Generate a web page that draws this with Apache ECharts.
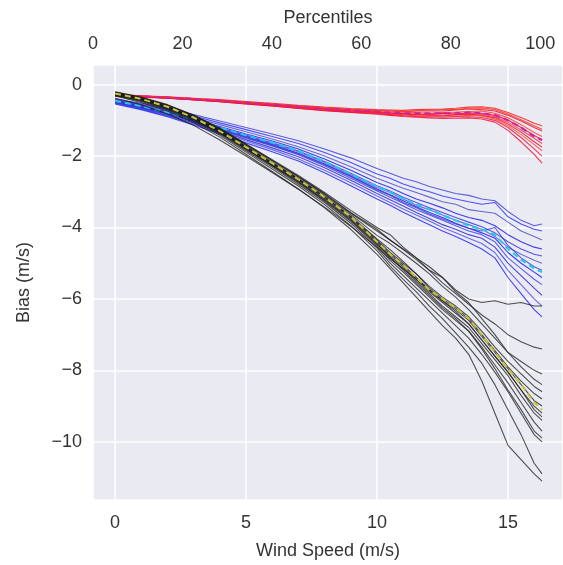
<!DOCTYPE html>
<html><head><meta charset="utf-8">
<script src="https://cdn.jsdelivr.net/npm/echarts@6/dist/echarts.min.js"></script>
<style>html,body{margin:0;padding:0;background:#fff}#c{width:563px;height:565px}</style>
</head><body><div id="c"></div>
<script>
const windSpeed = [0,1,2,3,4,5,6,7,8,9,10,10.5,11,11.5,12,12.5,13,13.5,14,14.5,15,15.5,16,16.3];
const percentileTicks = [0,20,40,60,80,100];

const redLines = [
 [-0.28,-0.31,-0.34,-0.38,-0.42,-0.47,-0.52,-0.58,-0.63,-0.67,-0.7,-0.71,-0.72,-0.7,-0.69,-0.68,-0.66,-0.63,-0.62,-0.66,-0.78,-0.92,-1.08,-1.15],
 [-0.3,-0.33,-0.37,-0.41,-0.46,-0.5,-0.55,-0.61,-0.66,-0.7,-0.73,-0.74,-0.76,-0.74,-0.73,-0.74,-0.71,-0.68,-0.7,-0.74,-0.86,-1.02,-1.2,-1.3],
 [-0.31,-0.34,-0.37,-0.41,-0.45,-0.5,-0.56,-0.62,-0.68,-0.72,-0.75,-0.78,-0.79,-0.78,-0.8,-0.78,-0.77,-0.75,-0.74,-0.8,-0.93,-1.12,-1.34,-1.45],
 [-0.29,-0.32,-0.36,-0.4,-0.45,-0.51,-0.57,-0.63,-0.69,-0.74,-0.77,-0.8,-0.81,-0.83,-0.82,-0.8,-0.82,-0.79,-0.8,-0.86,-0.99,-1.2,-1.42,-1.55],
 [-0.3,-0.33,-0.36,-0.4,-0.45,-0.5,-0.56,-0.62,-0.68,-0.73,-0.77,-0.79,-0.82,-0.84,-0.83,-0.85,-0.84,-0.82,-0.83,-0.9,-1.05,-1.27,-1.5,-1.65],
 [-0.32,-0.35,-0.38,-0.42,-0.47,-0.52,-0.58,-0.64,-0.7,-0.75,-0.79,-0.82,-0.84,-0.85,-0.86,-0.87,-0.85,-0.84,-0.86,-0.93,-1.1,-1.33,-1.6,-1.75],
 [-0.3,-0.34,-0.37,-0.42,-0.47,-0.53,-0.59,-0.65,-0.71,-0.76,-0.8,-0.83,-0.85,-0.87,-0.88,-0.87,-0.89,-0.86,-0.88,-0.96,-1.15,-1.4,-1.68,-1.85],
 [-0.31,-0.34,-0.38,-0.43,-0.48,-0.54,-0.6,-0.66,-0.72,-0.77,-0.81,-0.84,-0.87,-0.89,-0.9,-0.91,-0.9,-0.9,-0.92,-1.0,-1.2,-1.48,-1.8,-2.0],
 [-0.3,-0.33,-0.37,-0.42,-0.48,-0.54,-0.6,-0.67,-0.73,-0.78,-0.83,-0.86,-0.89,-0.91,-0.93,-0.95,-0.94,-0.93,-0.96,-1.05,-1.28,-1.6,-1.95,-2.2],
 [-0.29,-0.32,-0.35,-0.39,-0.44,-0.49,-0.54,-0.6,-0.65,-0.69,-0.72,-0.73,-0.75,-0.73,-0.71,-0.7,-0.7,-0.66,-0.65,-0.7,-0.82,-0.98,-1.15,-1.25]
];
const redMean = [-0.3,-0.33,-0.36,-0.4,-0.45,-0.5,-0.56,-0.62,-0.68,-0.72,-0.76,-0.78,-0.8,-0.8,-0.8,-0.8,-0.8,-0.78,-0.8,-0.85,-1.0,-1.2,-1.45,-1.55];

const blueLines = [
 [-0.4,-0.52,-0.67,-0.84,-1.02,-1.2,-1.38,-1.57,-1.8,-2.05,-2.35,-2.48,-2.62,-2.72,-2.85,-2.95,-3.05,-3.1,-3.2,-3.25,-3.55,-3.8,-3.95,-3.9],
 [-0.42,-0.55,-0.7,-0.88,-1.07,-1.26,-1.45,-1.65,-1.9,-2.18,-2.5,-2.62,-2.78,-2.9,-3.0,-3.12,-3.2,-3.28,-3.35,-3.3,-3.7,-3.9,-4.05,-4.1],
 [-0.44,-0.57,-0.73,-0.92,-1.12,-1.32,-1.52,-1.74,-2.0,-2.3,-2.62,-2.76,-2.9,-3.02,-3.15,-3.28,-3.35,-3.5,-3.55,-3.6,-3.85,-4.1,-4.25,-4.35],
 [-0.45,-0.59,-0.76,-0.96,-1.17,-1.38,-1.58,-1.8,-2.08,-2.4,-2.74,-2.88,-3.05,-3.2,-3.32,-3.45,-3.6,-3.72,-3.8,-3.95,-4.2,-4.4,-4.55,-4.6],
 [-0.46,-0.6,-0.78,-0.98,-1.2,-1.42,-1.63,-1.86,-2.15,-2.48,-2.83,-2.98,-3.15,-3.3,-3.45,-3.58,-3.72,-3.85,-3.98,-4.15,-4.4,-4.6,-4.75,-4.8],
 [-0.47,-0.62,-0.8,-1.0,-1.22,-1.44,-1.65,-1.88,-2.18,-2.52,-2.88,-3.02,-3.2,-3.38,-3.5,-3.65,-3.8,-3.92,-4.05,-4.25,-4.55,-4.75,-4.92,-5.0],
 [-0.48,-0.63,-0.81,-1.01,-1.24,-1.46,-1.68,-1.92,-2.22,-2.56,-2.92,-3.08,-3.25,-3.42,-3.58,-3.72,-3.88,-4.02,-4.15,-4.3,-4.7,-5.0,-5.25,-5.4],
 [-0.5,-0.65,-0.83,-1.04,-1.27,-1.5,-1.72,-1.96,-2.27,-2.62,-2.98,-3.15,-3.32,-3.5,-3.65,-3.8,-3.95,-4.1,-4.2,-4.4,-4.85,-5.15,-5.45,-5.6],
 [-0.51,-0.67,-0.86,-1.07,-1.3,-1.54,-1.77,-2.02,-2.33,-2.68,-3.05,-3.22,-3.4,-3.58,-3.75,-3.92,-4.05,-4.2,-4.3,-4.55,-5.0,-5.35,-5.7,-5.9],
 [-0.52,-0.68,-0.88,-1.1,-1.34,-1.58,-1.82,-2.08,-2.4,-2.75,-3.12,-3.3,-3.48,-3.65,-3.82,-4.0,-4.15,-4.3,-4.45,-4.7,-5.2,-5.6,-6.0,-6.2],
 [-0.54,-0.7,-0.9,-1.13,-1.38,-1.63,-1.88,-2.14,-2.47,-2.83,-3.2,-3.38,-3.57,-3.75,-3.92,-4.1,-4.25,-4.42,-4.6,-4.85,-5.4,-5.85,-6.3,-6.5],
 [-0.49,-0.64,-0.82,-1.03,-1.26,-1.48,-1.7,-1.94,-2.24,-2.58,-2.95,-3.1,-3.3,-3.45,-3.62,-3.76,-3.9,-4.02,-4.1,-4.0,-4.5,-4.85,-5.1,-5.2]
];
const blueMean = [-0.45,-0.6,-0.78,-0.98,-1.2,-1.42,-1.62,-1.85,-2.15,-2.5,-2.85,-3.0,-3.2,-3.35,-3.5,-3.65,-3.8,-3.95,-4.05,-4.2,-4.6,-4.9,-5.15,-5.25];

const blackLines = [
 [-0.2,-0.35,-0.56,-0.85,-1.22,-1.66,-2.1,-2.54,-3.02,-3.52,-4.0,-4.2,-4.55,-4.85,-5.1,-5.4,-5.75,-6.0,-6.1,-6.05,-6.15,-6.1,-6.2,-6.2],
 [-0.22,-0.37,-0.58,-0.87,-1.25,-1.69,-2.13,-2.58,-3.07,-3.6,-4.1,-4.35,-4.62,-4.9,-5.2,-5.55,-5.85,-6.15,-6.45,-6.7,-7.0,-7.2,-7.35,-7.4],
 [-0.23,-0.38,-0.6,-0.89,-1.27,-1.72,-2.17,-2.62,-3.1,-3.64,-4.22,-4.45,-4.72,-5.0,-5.3,-5.65,-5.95,-6.3,-6.7,-7.1,-7.5,-7.75,-8.0,-8.1],
 [-0.24,-0.39,-0.61,-0.91,-1.29,-1.74,-2.19,-2.64,-3.13,-3.68,-4.32,-4.62,-4.95,-5.3,-5.65,-5.95,-6.2,-6.5,-6.9,-7.35,-7.75,-8.1,-8.45,-8.6],
 [-0.25,-0.4,-0.62,-0.92,-1.3,-1.75,-2.2,-2.65,-3.15,-3.7,-4.35,-4.7,-5.0,-5.3,-5.7,-6.0,-6.25,-6.55,-7.0,-7.45,-7.9,-8.3,-8.65,-8.8],
 [-0.26,-0.41,-0.63,-0.93,-1.31,-1.76,-2.21,-2.67,-3.17,-3.72,-4.38,-4.75,-5.05,-5.4,-5.75,-6.05,-6.3,-6.6,-7.05,-7.5,-7.95,-8.4,-8.85,-9.0],
 [-0.27,-0.42,-0.64,-0.94,-1.32,-1.78,-2.23,-2.69,-3.19,-3.75,-4.42,-4.8,-5.1,-5.45,-5.8,-6.1,-6.4,-6.7,-7.15,-7.6,-8.05,-8.55,-9.0,-9.2],
 [-0.27,-0.43,-0.65,-0.95,-1.34,-1.8,-2.25,-2.72,-3.22,-3.78,-4.46,-4.85,-5.15,-5.5,-5.85,-6.2,-6.5,-6.8,-7.25,-7.7,-8.15,-8.7,-9.2,-9.4],
 [-0.28,-0.44,-0.66,-0.97,-1.36,-1.82,-2.28,-2.75,-3.26,-3.83,-4.52,-4.92,-5.25,-5.6,-5.95,-6.3,-6.6,-6.9,-7.35,-7.85,-8.35,-8.9,-9.45,-9.7],
 [-0.29,-0.45,-0.68,-0.99,-1.38,-1.85,-2.31,-2.79,-3.3,-3.88,-4.58,-5.0,-5.35,-5.7,-6.05,-6.4,-6.75,-7.1,-7.55,-8.05,-8.6,-9.2,-9.8,-10.0],
 [-0.3,-0.47,-0.7,-1.02,-1.42,-1.89,-2.36,-2.84,-3.36,-3.95,-4.65,-5.08,-5.45,-5.8,-6.2,-6.55,-6.95,-7.35,-7.8,-8.4,-9.1,-9.8,-10.6,-10.9],
 [-0.32,-0.5,-0.74,-1.06,-1.47,-1.95,-2.43,-2.92,-3.45,-4.05,-4.75,-5.15,-5.55,-5.95,-6.35,-6.75,-7.1,-7.55,-8.3,-9.2,-10.1,-10.5,-10.9,-11.1],
 [-0.38,-0.56,-0.82,-1.14,-1.55,-2.0,-2.46,-2.93,-3.43,-3.97,-4.55,-4.88,-5.15,-5.45,-5.75,-6.05,-6.35,-6.7,-7.15,-7.6,-8.05,-8.55,-9.1,-9.3],
 [-0.21,-0.36,-0.57,-0.86,-1.23,-1.67,-2.12,-2.57,-3.05,-3.58,-4.05,-4.35,-4.6,-4.85,-5.2,-5.4,-5.8,-6.1,-6.55,-7.0,-7.5,-7.9,-8.25,-8.4],
 [-0.27,-0.42,-0.64,-0.95,-1.33,-1.79,-2.26,-2.73,-3.24,-3.8,-4.48,-4.82,-5.2,-5.55,-5.9,-6.25,-6.55,-6.9,-7.4,-7.95,-8.55,-9.1,-9.7,-9.9]
];
const blackMean = [-0.25,-0.4,-0.62,-0.92,-1.3,-1.75,-2.2,-2.65,-3.15,-3.7,-4.4,-4.75,-5.05,-5.4,-5.75,-6.0,-6.25,-6.55,-7.0,-7.5,-7.95,-8.4,-8.9,-9.1];

const redColors = ['#ff1a1a','#e8103c','#ff3b2f','#d9002e','#ff2a55','#f01020','#ff4a3a','#e0204a','#ff0a30','#f53a25'];
const blueColors = ['#3a3ad8','#2828ff','#4848c8','#1010ee','#3030e0','#5050d0','#0a0aff','#3c3cf0','#2020d0','#4a4ae8','#1c1cf8','#3838c0'];

const FONT = 'Liberation Sans';
function pairs(ys){ return windSpeed.map((x,i)=>[x, ys[i]]); }
function minus(v){ return v < 0 ? '\u2212' + Math.abs(v) : String(v); }

const series = [];
blueLines.forEach((ys,i)=>series.push({type:'line', data:pairs(ys), showSymbol:false, silent:true,
  lineStyle:{color:blueColors[i % blueColors.length], width:1.1, opacity:0.8}}));
series.push({type:'line', data:pairs(blueMean), showSymbol:false, silent:true,
  lineStyle:{color:'#22c8e8', width:2, type:[6,4]}});
redLines.forEach((ys,i)=>series.push({type:'line', data:pairs(ys), showSymbol:false, silent:true,
  lineStyle:{color:redColors[i % redColors.length], width:1.1, opacity:0.85}}));
series.push({type:'line', data:pairs(redMean), showSymbol:false, silent:true,
  lineStyle:{color:'#d0209a', width:2, type:[6,4]}});
blackLines.forEach((ys,i)=>series.push({type:'line', data:pairs(ys), showSymbol:false, silent:true,
  lineStyle:{color:'#1a1a1a', width:1.1, opacity:0.75}}));
series.push({type:'line', data:pairs(blackMean), showSymbol:false, silent:true,
  lineStyle:{color:'#c4c43a', width:2, type:[6,4]}});

const chart = echarts.init(document.getElementById('c'), null, {renderer:'canvas'});
chart.setOption({
  animation:false,
  backgroundColor:'#ffffff',
  grid:{left:93, right:0, top:65, bottom:65, show:true, backgroundColor:'#EAEAF2', borderWidth:0, containLabel:false},
  xAxis:[{
    type:'value', position:'bottom', min:-0.84, max:17.1, splitNumber:4,
    axisLine:{show:false}, axisTick:{show:false},
    axisLabel:{fontFamily:FONT, fontSize:18, color:'#333', margin:14, showMinLabel:false, showMaxLabel:false},
    splitLine:{show:true, lineStyle:{color:'#ffffff', width:1.5}},
    name:'Wind Speed (m/s)', nameLocation:'middle', nameGap:42,
    nameTextStyle:{fontFamily:FONT, fontSize:18, color:'#333'}
  },{
    type:'value', position:'top', min:0, max:105.1, interval:20,
    axisLine:{show:false}, axisTick:{show:false},
    axisLabel:{fontFamily:FONT, fontSize:18, color:'#333', margin:12, showMaxLabel:false,
      formatter:v => percentileTicks.indexOf(v) >= 0 ? String(v) : ''},
    splitLine:{show:false},
    name:'Percentiles', nameLocation:'middle', nameGap:38,
    nameTextStyle:{fontFamily:FONT, fontSize:18, color:'#333'}
  }],
  yAxis:{
    type:'value', min:-11.63, max:0.55, splitNumber:6,
    axisLine:{show:false}, axisTick:{show:false},
    axisLabel:{fontFamily:FONT, fontSize:18, color:'#333', margin:11, showMinLabel:false, showMaxLabel:false, formatter:minus},
    splitLine:{show:true, lineStyle:{color:'#ffffff', width:1.5}},
    name:'Bias (m/s)', nameLocation:'middle', nameGap:60, nameRotate:90,
    nameTextStyle:{fontFamily:FONT, fontSize:18, color:'#333'}
  },
  series: series
});
</script></body></html>
